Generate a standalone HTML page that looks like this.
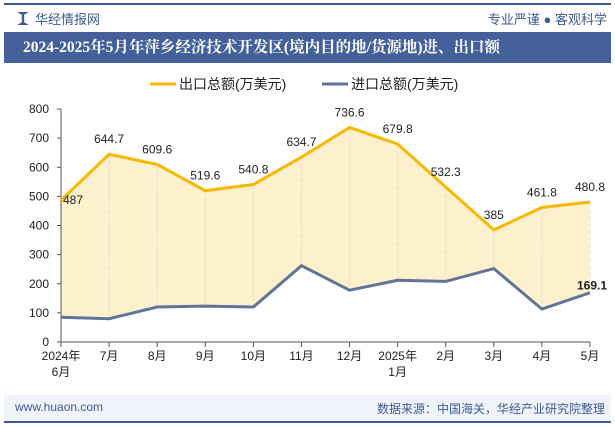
<!DOCTYPE html>
<html><head><meta charset="utf-8"><style>
body{margin:0;width:615px;height:427px;background:#fff;font-family:"Liberation Sans","Noto Sans CJK SC",sans-serif;position:relative;overflow:hidden}
.abs{position:absolute}
</style></head><body>
<div class="abs" style="left:4px;top:3px;width:607px;height:2px;background:#3d5a96"></div>
<div class="abs" style="left:17px;top:12px;width:12px;height:13px;background:#3d5a96;clip-path:polygon(0 0,40% 20%,40% 80%,0 100%,100% 100%,60% 80%,60% 20%,100% 0)"></div>
<div class="abs" style="left:35px;top:9px;font-size:13px;color:#3d5a96">华经情报网</div>
<div class="abs" style="right:8px;top:9px;font-size:13px;color:#3d5a96">专业严谨 ● 客观科学</div>
<div class="abs" style="left:4px;top:32px;width:588px;padding-left:19px;height:31px;background:#44609a;color:#fff;font-size:15.5px;font-weight:bold;line-height:31px;text-align:left;font-family:'Liberation Serif','Noto Serif CJK SC',serif;white-space:nowrap">2024-2025年5月年萍乡经济技术开发区(境内目的地/货源地)进、出口额</div>
<svg class="abs" style="left:0;top:0" width="615" height="427" id="chart"></svg>
<div class="abs" style="left:4px;top:395px;width:607px;height:26px;background:#f0f3f9"></div>
<div class="abs" style="left:15px;top:400px;font-size:12px;color:#3d5a96">www.huaon.com</div>
<div class="abs" style="right:10px;top:400px;font-size:12px;color:#3d5a96">数据来源：中国海关，华经产业研究院整理</div>
<div class="abs" style="left:4px;top:421px;width:607px;height:2px;background:#3d5a96"></div>
<script>
const categories=["2024年\n6月","7月","8月","9月","10月","11月","12月","2025年\n1月","2月","3月","4月","5月"];
const exportVals=[487,644.7,609.6,519.6,540.8,634.7,736.6,679.8,532.3,385,461.8,480.8];
const importVals=[85,80,120,123,120,262,178,212,208,252,113,169.1];
const yTicks=[0,100,200,300,400,500,600,700,800];
const NS="http://www.w3.org/2000/svg";
const svg=document.getElementById('chart');
const x0=61,x1=590,y0=342,y1=109;
const xs=i=>x0+(x1-x0)*i/(categories.length-1);
const ys=v=>y0-(y0-y1)*v/800;
function mk(t,a,p){const e=document.createElementNS(NS,t);for(const k in a)e.setAttribute(k,a[k]);(p||svg).appendChild(e);return e;}
let pts=exportVals.map((v,i)=>xs(i)+','+ys(v)).concat(importVals.map((v,i)=>[i,v]).reverse().map(([i,v])=>xs(i)+','+ys(v)));
const area=mk('polygon',{points:pts.join(' '),fill:'#fdf0cc'});


categories.forEach((c,i)=>{const g=mk('line',{x1:xs(i),x2:xs(i),y1:ys(exportVals[i]),y2:ys(importVals[i]),stroke:'#ddd','stroke-dasharray':'4,3'});

});
const yax=mk('line',{x1:x0,x2:x0,y1:y1,y2:y0,stroke:'#555'});


yTicks.forEach(t=>{mk('line',{x1:x0-4,x2:x0,y1:ys(t),y2:ys(t),stroke:'#555'});
const tx=mk('text',{x:x0-12,y:ys(t)+4,'text-anchor':'end','font-size':12,fill:'#222'});tx.textContent=t;

});
const xax=mk('line',{x1:x0,x2:x1,y1:y0,y2:y0,stroke:'#555'});


categories.forEach((c,i)=>{mk('line',{x1:xs(i),x2:xs(i),y1:y0,y2:y0+5,stroke:'#555'});
c.split('\n').forEach((ln,j)=>{const tx=mk('text',{x:xs(i),y:y0+18+j*16,'text-anchor':'middle','font-size':12,fill:'#222'});tx.textContent=ln;

});});
const le=mk('polyline',{points:exportVals.map((v,i)=>xs(i)+','+ys(v)).join(' '),fill:'none',stroke:'#f8b800','stroke-width':3});


const li=mk('polyline',{points:importVals.map((v,i)=>xs(i)+','+ys(v)).join(' '),fill:'none',stroke:'#617399','stroke-width':3});


exportVals.forEach((v,i)=>{const tx=mk('text',{x:i==0?xs(i)+12:xs(i),y:i==0?ys(v)+4:ys(v)-11,'text-anchor':'middle','font-size':12,fill:'#222'});tx.textContent=v;

});
const n=importVals.length-1;
const lt=mk('text',{x:xs(n)-13,y:ys(importVals[n])-3,'text-anchor':'start','font-size':12,'font-weight':'bold',fill:'#222'});lt.textContent=importVals[n];


const l1=mk('line',{x1:150,x2:176,y1:84,y2:84,stroke:'#f8b800','stroke-width':3});


const t1=mk('text',{x:179,y:89,'font-size':14,fill:'#222'});t1.textContent='出口总额(万美元)';


const l2=mk('line',{x1:322,x2:348,y1:84,y2:84,stroke:'#617399','stroke-width':3});


const t2=mk('text',{x:351,y:89,'font-size':14,fill:'#222'});t2.textContent='进口总额(万美元)';


</script>
</body></html>
